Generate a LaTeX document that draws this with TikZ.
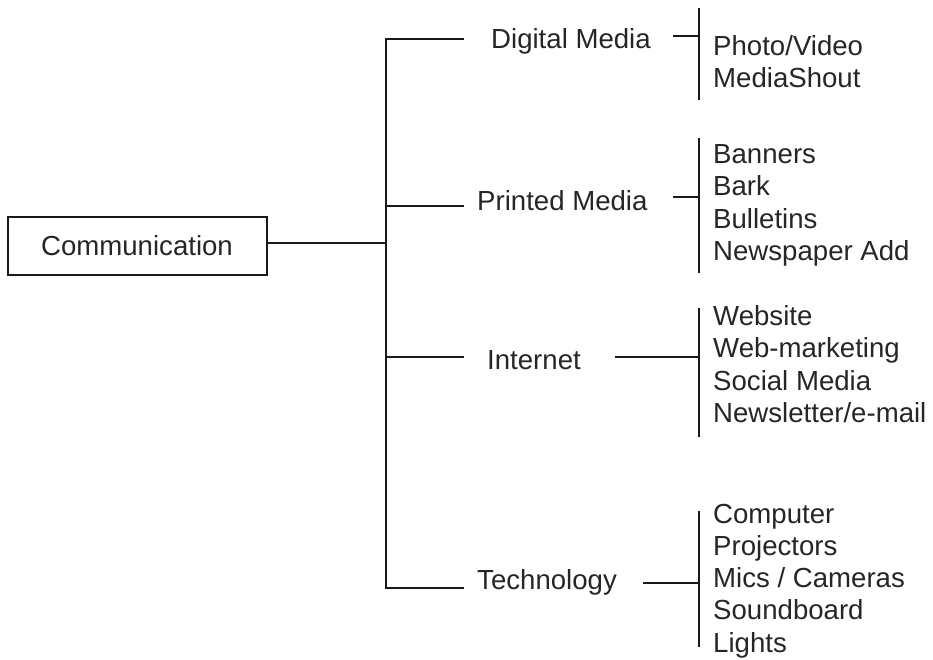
\documentclass[tikz,border=0pt]{standalone}
\usepackage{fontspec}
\setmainfont{Liberation Sans}
\begin{document}
\begin{tikzpicture}[x=1pt,y=-1pt,
  ln/.style={line width=2.6pt,black!90},
  lbl/.style={inner sep=0pt,font=\fontsize{27.6}{32}\selectfont,text=black!85},
  item/.style={lbl,anchor=base west}]
\useasboundingbox (0,0) rectangle (933,659);
% root
\node[draw,ln,minimum width=259pt,minimum height=58pt,inner sep=0pt] (root) at (137.5,246) {};
\node[lbl,anchor=base] (rootlbl) at (137,255) {Communication};
% trunk
\coordinate (tt) at (386,39);
\coordinate (tm) at (386,243);
\coordinate (t2) at (386,206);
\coordinate (t3) at (386,357);
\coordinate (tb) at (386,588);
\coordinate (e1) at (464,39);
\coordinate (e2) at (464,206);
\coordinate (e3) at (464,357);
\coordinate (e4) at (464,588);
\draw[ln] (root.east |- tm) -- (tm);
\draw[ln] (e1) -- (tt) -- (tb) -- (e4);
\draw[ln] (t2) -- (e2);
\draw[ln] (t3) -- (e3);
% categories
\node[item] (dm) at (491,48) {Digital Media};
\node[item] (pm) at (477,210) {Printed Media};
\node[item] (in) at (487,369) {Internet};
\node[item] (te) at (477,589) {Technology};
% brackets
\coordinate (b1t) at (699,8);   \coordinate (b1b) at (699,100);
\coordinate (b2t) at (699,138); \coordinate (b2b) at (699,273);
\coordinate (b3t) at (699,308); \coordinate (b3b) at (699,437);
\coordinate (b4t) at (699,511); \coordinate (b4b) at (699,647);
\draw[ln] (b1t) -- (b1b);
\draw[ln] (b2t) -- (b2b);
\draw[ln] (b3t) -- (b3b);
\draw[ln] (b4t) -- (b4b);
\coordinate (d1) at (673,36);
\coordinate (d2) at (673,197);
\coordinate (d3) at (615,357);
\coordinate (d4) at (643,583);
\draw[ln] (d1) -- (d1 -| b1t);
\draw[ln] (d2) -- (d2 -| b2t);
\draw[ln] (d3) -- (d3 -| b3t);
\draw[ln] (d4) -- (d4 -| b4t);
% items
\node[item] (i11) at (713,55) {Photo/Video};
\node[item] (i12) at (713,87) {MediaShout};
\node[item] (i21) at (713,163) {Banners};
\node[item] (i22) at (713,195) {Bark};
\node[item] (i23) at (713,228) {Bulletins};
\node[item] (i24) at (713,260) {Newspaper Add};
\node[item] (i31) at (713,325) {Website};
\node[item] (i32) at (713,357) {Web-marketing};
\node[item] (i33) at (713,390) {Social Media};
\node[item] (i34) at (713,422) {Newsletter/e-mail};
\node[item] (i41) at (713,523) {Computer};
\node[item] (i42) at (713,555) {Projectors};
\node[item] (i43) at (713,587) {Mics / Cameras};
\node[item] (i44) at (713,619) {Soundboard};
\node[item] (i45) at (713,652) {Lights};
\end{tikzpicture}
\end{document}
